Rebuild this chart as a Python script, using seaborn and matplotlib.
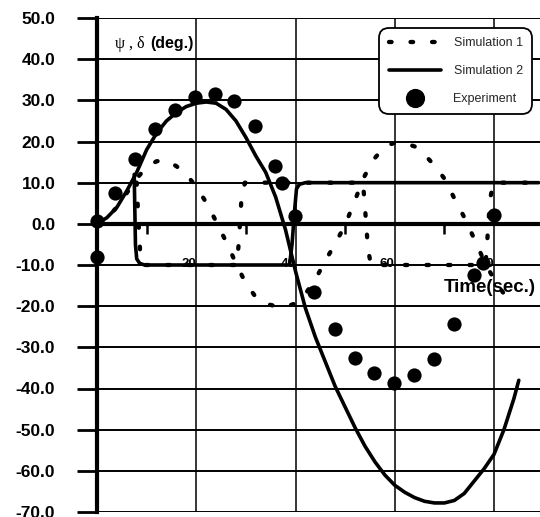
import numpy as np
import pandas as pd
import matplotlib
matplotlib.use("Agg")
import matplotlib.pyplot as plt
import seaborn as sns

# ---------------- data ----------------
sim1_t = [0, 2, 4, 6, 8, 10, 12, 14, 16, 18, 20, 22, 24, 26, 28, 30, 32, 34, 36, 38, 40,
          42, 44, 46, 48, 50, 52, 54, 56, 58, 60, 62, 64, 66, 68, 70, 72, 74, 76, 78, 80, 82, 84]
sim1_psi = [0, 1.5, 4, 7.5, 11, 13.8, 15.2, 15.4, 14, 12, 9, 5.2, 0.6, -4.3, -9.6, -14.5,
            -17.8, -19.4, -20, -20.2, -19.3, -17, -13.5, -9, -4.8, -0.3, 5.8, 11.8, 16, 18.8,
            19.7, 19.6, 18.8, 16.8, 14.2, 11, 6.2, 1.6, -3.6, -9, -13.5, -17, -20.2]

sim1_rud_t = [7.9, 8.0, 8.3, 8.7, 9.2, 28.2, 28.6, 29.1, 29.8, 53.6, 54.0, 54.6, 55.2,
              78.3, 78.7, 79.2, 79.9, 89]
sim1_rud = [10, 10, 2, -7, -10, -10, -4, 6, 10, 10, 4, -6, -10, -10, -3, 6, 10, 10]

sim2_t = [0, 2, 4, 6, 8, 10, 12, 14, 16, 18, 20, 22, 24, 26, 28, 30, 32, 34, 36, 38, 40,
          42, 44, 46, 48, 50, 52, 54, 56, 58, 60, 62, 64, 66, 68, 70, 72, 74, 76, 78, 80,
          82, 84, 85]
sim2_psi = [0, 1.5, 4, 8, 12.5, 18, 22, 25, 27, 28.5, 29.3, 29.6, 29.3, 27.8, 25, 21, 16.5,
            12.5, 6.5, -1.5, -11.5, -20.5, -27.5, -33.5, -39.5, -44.5, -49.5, -54, -57.8,
            -61, -63.5, -65.2, -66.5, -67.4, -67.8, -67.8, -67.2, -65.5, -62.5, -59.5, -56,
            -50, -42.5, -38]

sim2_rud_t = [7.5, 7.6, 7.75, 8.0, 8.6, 9.6, 38.8, 39.3, 39.8, 40.2, 40.8, 42, 89]
sim2_rud = [12, 5, -5, -8.5, -9.6, -10, -10, -5, 3, 8.5, 9.6, 10, 10]

exp_t = [0, 0, 3.6, 7.6, 11.7, 15.7, 19.7, 23.7, 27.7, 31.8, 35.8, 37.2, 39.8, 43.8, 48,
         51.9, 55.9, 59.9, 63.9, 67.9, 72, 76, 77.8, 80]
exp_v = [0.7, -8, 7.5, 15.8, 23, 27.7, 30.8, 31.5, 29.9, 23.8, 14.1, 10, 2, -16.5, -25.6,
         -32.5, -36.3, -38.6, -36.7, -32.8, -24.3, -12.4, -9.5, 2.2]

y_ticks = [50, 40, 30, 20, 10, 0, -10, -20, -30, -40, -50, -60, -70]
x_major = [20, 40, 60, 80]
x_minor = [10, 30, 50, 70]
x_labels = ["20", "40", "60", "80"]
series_labels = ["Simulation 1", "Simulation 2", "Experiment"]

# ---------------- styling ----------------
sns.set_theme(style="white")
plt.rcParams["font.family"] = ["Liberation Sans", "DejaVu Sans"]
plt.rcParams["axes.unicode_minus"] = False

fig = plt.figure(figsize=(5.4, 5.17), dpi=100)
ax = fig.add_axes([97 / 540, 1 - 512 / 517, 443 / 540, (512 - 18) / 517])

dot_style = dict(color="black", lw=3.1, linestyle=(0, (0.6, 4.4)),
                 dash_capstyle="round", estimator=None, sort=False)
solid_style = dict(color="black", lw=2.6, estimator=None, sort=False)

sns.lineplot(x=sim1_t, y=sim1_psi, ax=ax, label=series_labels[0], zorder=4, **dot_style)
sns.lineplot(x=sim1_rud_t, y=sim1_rud, ax=ax, zorder=4, **dot_style)
sns.lineplot(x=sim2_t, y=sim2_psi, ax=ax, label=series_labels[1], zorder=5, **solid_style)
sns.lineplot(x=sim2_rud_t, y=sim2_rud, ax=ax, zorder=5, **solid_style)
sns.scatterplot(x=exp_t, y=exp_v, ax=ax, s=105, color="black", linewidth=0,
                label=series_labels[2], zorder=6, clip_on=False)

ax.set_xlim(0, (540 - 97) / ((494 - 97) / 80))
ax.set_ylim(-70, 50)

# axes / grid
for side in ["top", "right"]:
    ax.spines[side].set_visible(False)
ax.spines["left"].set_linewidth(3)
ax.spines["left"].set_color("black")
ax.spines["bottom"].set_position(("data", 0))
ax.spines["bottom"].set_linewidth(3)
ax.spines["bottom"].set_color("black")
ax.spines["bottom"].set_zorder(3)

ax.set_yticks(y_ticks)
ax.set_yticklabels([f"{v:.1f}" for v in y_ticks])
ax.set_xticks(x_major)
ax.set_xticklabels(x_labels)
ax.set_xticks(x_minor, minor=True)

ax.grid(True, axis="y", color="black", lw=1.4)
ax.grid(True, axis="x", which="major", color="black", lw=1.1)

ax.tick_params(axis="y", which="major", left=True, direction="out", length=14.5,
               width=2.0, color="black", pad=15.5, labelsize=12.5, labelcolor="black")
ax.tick_params(axis="x", which="major", bottom=True, length=0, pad=24.5,
               labelsize=9.5, labelcolor="black")
ax.tick_params(axis="x", which="minor", bottom=True, direction="out", length=7,
               width=1.8, color="black")
for lab in ax.get_yticklabels():
    lab.set_fontweight("bold")
for lab in ax.get_xticklabels():
    lab.set_fontweight("bold")
    lab.set_horizontalalignment("right")

ax.set_xlabel("")
ax.set_ylabel("")

# text annotations
ax.text(3.6, 43.7, "ψ , δ", family=["Liberation Serif", "DejaVu Serif"], fontsize=11.5,
        ha="left", va="center", color="black")
ax.text(10.7, 43.8, "(deg.)", fontweight="bold", fontsize=11.5, ha="left",
        va="center", color="black")
ax.text(88.5, -15.5, "Time(sec.)", fontweight="bold", fontsize=13.5, ha="right",
        va="center", color="black", zorder=7)

# legend
handles, labels = ax.get_legend_handles_labels()
leg = ax.legend(handles, labels, loc="upper right",
                bbox_to_anchor=(532 / 540, 1 - 28 / 517), bbox_transform=fig.transFigure,
                borderaxespad=0, fontsize=9, handlelength=4.2, handletextpad=1.0,
                labelspacing=1.25, borderpad=0.75, markerscale=1.35,
                frameon=True, fancybox=True, framealpha=1, facecolor="white",
                edgecolor="black")
leg.get_frame().set_linewidth(1.3)
leg.get_frame().set_boxstyle("round,pad=0,rounding_size=0.8")
leg.set_zorder(10)

fig.savefig("out.png", dpi=100)
